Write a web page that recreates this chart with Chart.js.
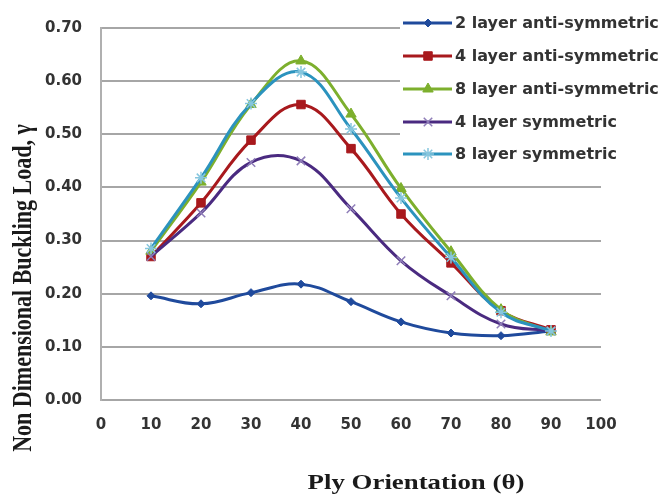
<!DOCTYPE html>
<html>
<head>
<meta charset="utf-8">
<script src="https://cdn.jsdelivr.net/npm/chart.js@4.4.1/dist/chart.umd.min.js"></script>
<style>
  html, body { margin: 0; padding: 0; background: #fff; }
  #wrap { width: 664px; height: 495px; }
</style>
</head>
<body>
<div id="wrap"><canvas id="chart"></canvas></div>
<script>
// Ply orientation (deg) and buckling load values
const angles = [10, 20, 30, 40, 50, 60, 70, 80, 90];
const xTicks = [0, 10, 20, 30, 40, 50, 60, 70, 80, 90, 100];
const yTicks = [0, 0.1, 0.2, 0.3, 0.4, 0.5, 0.6, 0.7];

const seriesNames = [
  '2 layer anti-symmetric',
  '4 layer anti-symmetric',
  '8 layer anti-symmetric',
  '4 layer symmetric',
  '8 layer symmetric',
];

const twoLayerAnti  = [0.196, 0.181, 0.202, 0.218, 0.185, 0.147, 0.126, 0.121, 0.130];
const fourLayerAnti = [0.270, 0.371, 0.489, 0.556, 0.473, 0.350, 0.258, 0.168, 0.132];
const eightLayerAnti = [0.280, 0.410, 0.556, 0.638, 0.538, 0.398, 0.279, 0.170, 0.128];
const fourLayerSym  = [0.270, 0.352, 0.447, 0.450, 0.360, 0.262, 0.196, 0.143, 0.130];
const eightLayerSym = [0.285, 0.418, 0.558, 0.617, 0.510, 0.380, 0.268, 0.165, 0.130];

const STYLES = [
  { line: '#1F4A9C', point: '#1F4A9C', style: 'rectRot', r: 4, bw: 1 },
  { line: '#A8191D', point: '#A8191D', style: 'rect', r: 6, bw: 1 },
  { line: '#7DAF2D', point: '#7DAF2D', style: 'triangle', r: 6, bw: 1 },
  { line: '#4A2A80', point: '#8E7DB8', style: 'crossRot', r: 6, bw: 1.5 },
  { line: '#2B93BE', point: '#86C6DE', style: 'star', r: 6, bw: 1.5 },
];

const values = [twoLayerAnti, fourLayerAnti, eightLayerAnti, fourLayerSym, eightLayerSym];

const datasets = values.map((vals, i) => ({
  label: seriesNames[i],
  data: angles.map((a, k) => ({ x: a, y: vals[k] })),
  borderColor: STYLES[i].line,
  backgroundColor: STYLES[i].point,
  pointBorderColor: STYLES[i].point,
  pointBackgroundColor: STYLES[i].point,
  pointStyle: STYLES[i].style,
  pointRadius: STYLES[i].r,
  pointBorderWidth: STYLES[i].bw,
  borderWidth: 3,
  tension: 0.4,
  fill: false,
  order: values.length - i,
}));

// legend box + axis titles drawn over the plot like the Excel original
const overlay = {
  id: 'overlay',
  afterDraw(chart) {
    const ctx = chart.ctx;
    ctx.save();
    ctx.fillStyle = '#fff';
    ctx.fillRect(400, 0, 264, 168);

    const rows = [23, 56, 89, 122, 154];
    datasets.forEach((ds, i) => {
      const y = rows[i];
      ctx.strokeStyle = STYLES[i].line;
      ctx.lineWidth = 3;
      ctx.beginPath();
      ctx.moveTo(403, y);
      ctx.lineTo(452, y);
      ctx.stroke();
      ctx.fillStyle = STYLES[i].point;
      ctx.strokeStyle = STYLES[i].point;
      ctx.lineWidth = STYLES[i].bw;
      Chart.helpers.drawPoint(ctx, {
        pointStyle: STYLES[i].style, radius: STYLES[i].r,
        borderWidth: STYLES[i].bw, rotation: 0,
      }, 428, y);
      ctx.fillStyle = '#333';
      ctx.font = 'bold 16px "DejaVu Sans"';
      ctx.textAlign = 'left';
      ctx.textBaseline = 'middle';
      ctx.fillText(ds.label, 455, y + 1);
    });

    ctx.fillStyle = '#1a1a1a';
    ctx.font = 'bold 22px "Liberation Serif"';
    ctx.textAlign = 'center';
    ctx.textBaseline = 'middle';

    ctx.save();
    ctx.translate(416, 483);
    ctx.scale(1.22, 1);
    ctx.fillText('Ply Orientation (θ)', 0, 0);
    ctx.restore();

    ctx.save();
    ctx.translate(24, 288);
    ctx.scale(1.22, 1);
    ctx.rotate(-Math.PI / 2);
    ctx.fillText('Non Dimensional Buckling Load, γ', 0, 0);
    ctx.restore();

    ctx.restore();
  },
};

const ctx = document.getElementById('chart').getContext('2d');
new Chart(ctx, {
  type: 'line',
  data: { datasets },
  plugins: [overlay],
  options: {
    responsive: true,
    maintainAspectRatio: false,
    animation: false,
    layout: { padding: { left: 0, right: 63, top: 18, bottom: 0 } },
    plugins: {
      legend: { display: false },
      tooltip: { enabled: false },
    },
    scales: {
      x: {
        type: 'linear',
        min: 0,
        max: 100,
        afterBuildTicks: s => { s.ticks = xTicks.map(v => ({ value: v })); },
        afterFit: s => { s.height = 95; },
        grid: { display: false },
        border: { display: false },
        ticks: {
          color: '#333',
          font: { size: 15, weight: 'bold', family: 'DejaVu Sans' },
          padding: 8,
          maxRotation: 0,
          autoSkip: false,
        },
      },
      y: {
        min: 0,
        max: 0.7,
        afterBuildTicks: s => { s.ticks = yTicks.map(v => ({ value: v })); },
        afterFit: s => { s.width = 101; },
        grid: { color: '#a6a6a6', lineWidth: 2, drawTicks: false },
        border: { display: true, color: '#b0b0b0', width: 2 },
        ticks: {
          color: '#333',
          font: { size: 15, weight: 'bold', family: 'DejaVu Sans' },
          padding: 19,
          callback: v => v.toFixed(2),
        },
      },
    },
  },
});
</script>
</body>
</html>
